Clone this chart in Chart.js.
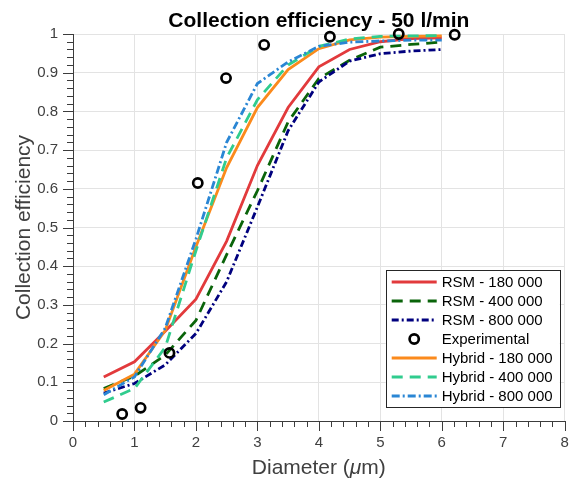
<!DOCTYPE html>
<html>
<head>
<meta charset="utf-8">
<script src="https://cdn.jsdelivr.net/npm/chart.js@4.4.0/dist/chart.umd.min.js"></script>
<style>
  html, body { margin: 0; padding: 0; background: #fff; }
</style>
</head>
<body>
<canvas id="effChart" width="572" height="481"></canvas>
<script>
// diametros simulados (um) y eficiencias
const diameters = [0.5, 1, 1.5, 2, 2.5, 3, 3.5, 4, 4.5, 5, 5.5, 6];
const rsm180 = [0.114, 0.153, 0.232, 0.315, 0.465, 0.66, 0.81, 0.915, 0.96, 0.98, 0.988, 0.99];
const rsm400 = [0.084, 0.116, 0.17, 0.26, 0.43, 0.595, 0.773, 0.885, 0.932, 0.966, 0.973, 0.979];
const rsm800 = [0.072, 0.097, 0.145, 0.226, 0.36, 0.553, 0.75, 0.876, 0.93, 0.949, 0.956, 0.96];
const hyb180 = [0.079, 0.121, 0.234, 0.45, 0.655, 0.81, 0.908, 0.962, 0.985, 0.992, 0.994, 0.995];
const hyb400 = [0.049, 0.084, 0.19, 0.44, 0.68, 0.83, 0.92, 0.968, 0.987, 0.994, 0.995, 0.996];
const hyb800 = [0.068, 0.114, 0.24, 0.47, 0.72, 0.872, 0.928, 0.968, 0.979, 0.982, 0.984, 0.984];

// puntos experimentales
const expDiam = [0.8, 1.1, 1.57, 2.03, 2.49, 3.11, 4.18, 5.3, 6.21];
const expEff = [0.018, 0.034, 0.176, 0.615, 0.886, 0.972, 0.993, 1.0, 0.998];

const xTicks = [0, 1, 2, 3, 4, 5, 6, 7, 8];
const yTicks = [0, 0.1, 0.2, 0.3, 0.4, 0.5, 0.6, 0.7, 0.8, 0.9, 1];
const xMinorPerMajor = 5;
const yMinorPerMajor = 5;

const FONT = '"Liberation Sans", Arial, sans-serif';
const AXIS_COLOR = "#3c3c3c";

const pts = (xs, ys) => xs.map((x, i) => ({ x: x, y: ys[i] }));

const lineSet = (label, ys, color, dash, order) => ({
  label: label,
  data: pts(diameters, ys),
  borderColor: color,
  backgroundColor: color,
  borderWidth: 2.8,
  borderDash: dash,
  pointRadius: 0,
  tension: 0,
  order: order,
});

// marcas de los ejes (mayores y menores), titulos y leyenda
const decoPlugin = {
  id: "deco",
  afterDraw(chart) {
    const ctx = chart.ctx;
    const a = chart.chartArea;
    const sx = chart.scales.x;
    const sy = chart.scales.y;
    ctx.save();

    // ticks hacia afuera
    ctx.strokeStyle = AXIS_COLOR;
    ctx.lineWidth = 1;
    ctx.beginPath();
    for (let i = 0; i < yTicks.length - 1; i++) {
      const step = (yTicks[i + 1] - yTicks[i]) / yMinorPerMajor;
      for (let k = 0; k <= yMinorPerMajor; k++) {
        const py = Math.round(sy.getPixelForValue(yTicks[i] + k * step)) + 0.5;
        const len = k === 0 || k === yMinorPerMajor ? 10 : 6;
        ctx.moveTo(a.left, py);
        ctx.lineTo(a.left - len, py);
      }
    }
    for (let i = 0; i < xTicks.length - 1; i++) {
      const step = (xTicks[i + 1] - xTicks[i]) / xMinorPerMajor;
      for (let k = 0; k <= xMinorPerMajor; k++) {
        const px = Math.round(sx.getPixelForValue(xTicks[i] + k * step)) + 0.5;
        const len = k === 0 || k === xMinorPerMajor ? 10 : 6;
        ctx.moveTo(px, a.bottom);
        ctx.lineTo(px, a.bottom + len);
      }
    }
    ctx.stroke();

    const midX = (a.left + a.right) / 2;

    // titulo
    ctx.fillStyle = "#000";
    ctx.font = "bold 21px " + FONT;
    ctx.textAlign = "center";
    ctx.textBaseline = "alphabetic";
    ctx.fillText("Collection efficiency - 50 l/min", midX, 27);

    // titulo eje y
    ctx.fillStyle = "#404040";
    ctx.font = "21px " + FONT;
    ctx.save();
    ctx.translate(30, (a.top + a.bottom) / 2);
    ctx.rotate(-Math.PI / 2);
    ctx.fillText("Collection efficiency", 0, 0);
    ctx.restore();

    // titulo eje x con mu en cursiva
    const parts = [
      { t: "Diameter (", f: "21px " + FONT },
      { t: "\u03bc", f: "italic 21px " + FONT },
      { t: "m)", f: "21px " + FONT },
    ];
    let total = 0;
    parts.forEach((p) => {
      ctx.font = p.f;
      p.w = ctx.measureText(p.t).width;
      total += p.w;
    });
    let cx = midX - total / 2;
    ctx.textAlign = "left";
    parts.forEach((p) => {
      ctx.font = p.f;
      ctx.fillText(p.t, cx, 474);
      cx += p.w;
    });

    // leyenda
    const box = { left: a.right - 179, top: a.bottom - 151, w: 174, h: 137 };
    ctx.fillStyle = "#fff";
    ctx.fillRect(box.left, box.top, box.w, box.h);
    ctx.strokeStyle = "#262626";
    ctx.lineWidth = 1;
    ctx.strokeRect(Math.round(box.left) + 0.5, Math.round(box.top) + 0.5, box.w, box.h);
    ctx.font = "15px " + FONT;
    ctx.textBaseline = "middle";
    chart.data.datasets.forEach((ds, i) => {
      const ry = box.top + 12 + i * 19;
      const x0 = box.left + 6;
      const x1 = box.left + 51;
      if (ds.showLine === false) {
        ctx.beginPath();
        ctx.setLineDash([]);
        ctx.strokeStyle = ds.pointBorderColor;
        ctx.lineWidth = ds.pointBorderWidth;
        ctx.arc((x0 + x1) / 2, ry, ds.pointRadius, 0, Math.PI * 2);
        ctx.stroke();
      } else {
        ctx.beginPath();
        ctx.setLineDash(ds.borderDash || []);
        ctx.strokeStyle = ds.borderColor;
        ctx.lineWidth = ds.borderWidth;
        ctx.moveTo(x0, ry);
        ctx.lineTo(x1, ry);
        ctx.stroke();
      }
      ctx.setLineDash([]);
      ctx.fillStyle = "#000";
      ctx.fillText(ds.label, box.left + 56, ry + 1);
    });
    ctx.restore();
  },
};

const ctx = document.getElementById("effChart").getContext("2d");
new Chart(ctx, {
  type: "line",
  data: {
    datasets: [
      lineSet("RSM - 180 000", rsm180, "#e23a3c", [], 7),
      lineSet("RSM - 400 000", rsm400, "#0a640a", [11, 7], 6),
      lineSet("RSM - 800 000", rsm800, "#00007e", [7, 3, 2, 3], 5),
      {
        label: "Experimental",
        data: pts(expDiam, expEff),
        showLine: false,
        pointStyle: "circle",
        pointRadius: 4.6,
        pointBorderWidth: 2.7,
        pointBorderColor: "#000",
        pointBackgroundColor: "rgba(0,0,0,0)",
        borderColor: "#000",
        clip: false,
        order: 0,
      },
      lineSet("Hybrid - 180 000", hyb180, "#fb8a1c", [], 4),
      lineSet("Hybrid - 400 000", hyb400, "#30cc8e", [11, 7], 3),
      lineSet("Hybrid - 800 000", hyb800, "#2a86d4", [8, 3, 2, 3], 2),
    ],
  },
  options: {
    responsive: false,
    animation: false,
    layout: { padding: { top: 34, right: 6, left: 0, bottom: 0 } },
    plugins: {
      legend: { display: false },
      title: { display: false },
      tooltip: { enabled: false },
    },
    scales: {
      x: {
        type: "linear",
        min: xTicks[0],
        max: xTicks[xTicks.length - 1],
        afterFit: (s) => {
          s.height = 60;
          s.paddingLeft = 0;
          s.paddingRight = 0;
        },
        afterBuildTicks: (s) => { s.ticks = xTicks.map((v) => ({ value: v })); },
        grid: { color: "#e3e3e3", lineWidth: 1, drawTicks: false },
        border: { color: AXIS_COLOR, width: 1 },
        ticks: {
          padding: 13,
          color: "#404040",
          font: { family: FONT, size: 15 },
          maxRotation: 0,
        },
      },
      y: {
        type: "linear",
        min: yTicks[0],
        max: yTicks[yTicks.length - 1],
        afterFit: (s) => {
          s.width = 73;
          s.paddingTop = 0;
          s.paddingBottom = 0;
        },
        afterBuildTicks: (s) => { s.ticks = yTicks.map((v) => ({ value: v })); },
        grid: { color: "#e3e3e3", lineWidth: 1, drawTicks: false },
        border: { color: AXIS_COLOR, width: 1 },
        ticks: {
          padding: 15,
          color: "#404040",
          font: { family: FONT, size: 15 },
          callback: (v) => String(+v.toFixed(1)),
        },
      },
    },
  },
  plugins: [decoPlugin],
});
</script>
</body>
</html>
